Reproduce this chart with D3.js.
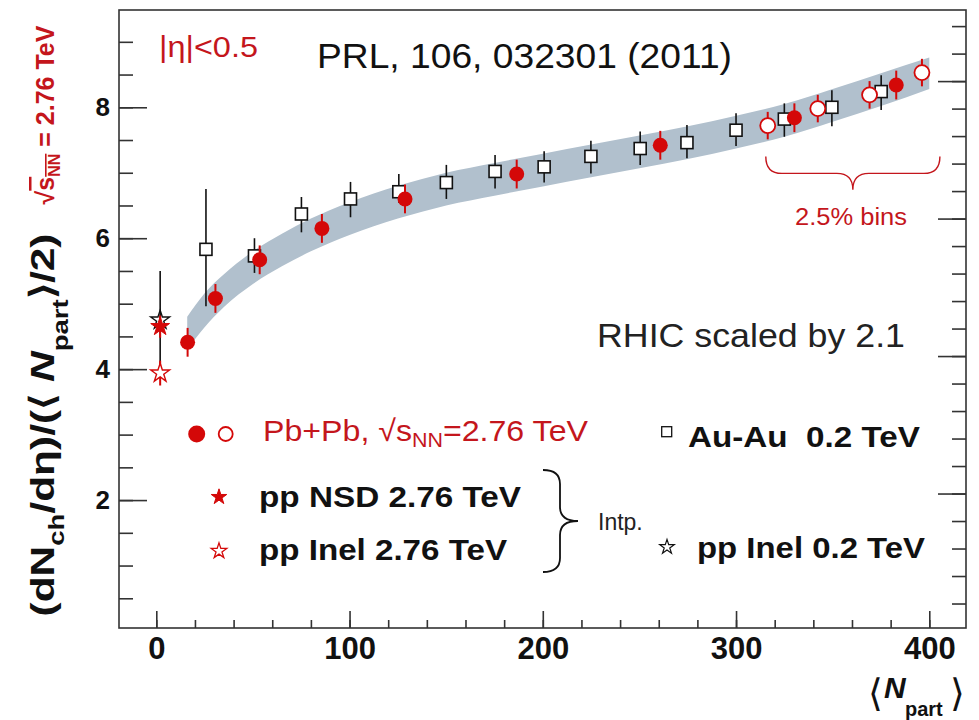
<!DOCTYPE html>
<html><head><meta charset="utf-8">
<script src="https://cdn.jsdelivr.net/npm/d3@7"></script>
<style>
body{margin:0;background:#fff}
svg{display:block}
text{font-family:"Liberation Sans",Arial,Helvetica,sans-serif}
</style>
</head><body>
<svg id="c" width="979" height="720"></svg>
<script>
// ---------------- data ----------------
// ALICE Pb+Pb 2.76 TeV, centrality bins (filled) and 2.5% bins (open)
const pbpbN   = [16.2, 30.6, 53.5, 85.7, 128.7, 186.5, 260.8, 330.2, 382.9];
const pbpbV   = [4.41, 5.08, 5.67, 6.15, 6.60, 6.98, 7.42, 7.84, 8.34];
const pbpbErr = [0.22, 0.22, 0.22, 0.22, 0.22, 0.22, 0.22, 0.22, 0.22];
const fineN   = [316.4, 342.3, 369.1, 396.2];
const fineV   = [7.72, 7.98, 8.19, 8.53];
const fineErr = [0.21, 0.21, 0.21, 0.21];
// RHIC Au-Au 0.2 TeV scaled by 2.1
const auauN  = [25.7, 50.8, 75.1, 100.5, 125.5, 150.1, 175.3, 200.7, 224.9, 250.4, 274.6, 300.0, 325.0, 349.6, 375.1];
const auauV  = [5.83, 5.73, 6.37, 6.60, 6.71, 6.85, 7.02, 7.09, 7.25, 7.37, 7.46, 7.65, 7.82, 8.00, 8.24];
const auauLo = [4.96, 5.47, 6.09, 6.32, 6.54, 6.60, 6.76, 6.85, 6.99, 7.12, 7.22, 7.41, 7.55, 7.71, 7.96];
const auauHi = [6.75, 6.00, 6.63, 6.86, 6.98, 7.12, 7.27, 7.33, 7.49, 7.63, 7.73, 7.91, 8.06, 8.26, 8.49];
// pp points at Npart = 2
const ppN = 2;
const ppNsdV = 4.65, ppNsdErr = 0.17;
const ppInelV = 3.94, ppInelErr = 0.19;
const ppRhicV = 4.75, ppRhicLo = 4.0, ppRhicHi = 5.5;
// systematic band
const bandN  = [16, 25, 35, 50, 65, 80, 100, 125, 150, 175, 200, 225, 250, 275, 300, 325, 350, 375, 400];
const bandLo = [4.30, 4.64, 4.95, 5.30, 5.57, 5.80, 6.05, 6.30, 6.50, 6.65, 6.79, 6.93, 7.07, 7.21, 7.37, 7.55, 7.78, 8.02, 8.28];
const bandHi = [4.80, 5.16, 5.45, 5.80, 6.07, 6.30, 6.55, 6.80, 7.00, 7.15, 7.29, 7.43, 7.57, 7.71, 7.87, 8.05, 8.28, 8.52, 8.76];
// ticks
const xMajor = [0, 100, 200, 300, 400];
const yMajor = [2, 4, 6, 8];
// annotation brace (2.5% bins) in data units
const binsBrace = {n0: 315.4, n1: 405.5, yEnd: 7.25, yMid: 6.99, yTip: 6.74};

// ---------------- scales ----------------
const svg = d3.select('#c');
const L = 119, R = 966, T = 10, B = 628;
const x = d3.scaleLinear().domain([-19.3, 419]).range([L, R]);
const y = d3.scaleLinear().domain([0.046, 9.486]).range([B, T]);
const yR = d3.scaleLinear().domain([0.046 / 2.1, 9.486 / 2.1]).range([B, T]);

const RED = '#d40808', TRED = '#c4161c', BAND = '#b1c0cd';

// ---------------- band ----------------
const band = bandN.map((n, i) => ({n, lo: bandLo[i], hi: bandHi[i]}));
svg.append('path').datum(band)
  .attr('fill', BAND)
  .attr('d', d3.area().x(d => x(d.n)).y0(d => y(d.lo)).y1(d => y(d.hi)).curve(d3.curveMonotoneX));

// ---------------- axes ----------------
const g = svg.append('g');
const range = (a, b, s) => d3.range(a, b + 1e-9, s).map(v => +v.toFixed(4));
// left
g.append('g').attr('transform', `translate(${L},0)`)
  .call(d3.axisLeft(y).tickValues(range(0.5, 9, 0.5)).tickSize(-14).tickFormat(''))
  .call(a => a.select('.domain').remove());
g.append('g').attr('transform', `translate(${L},0)`)
  .call(d3.axisLeft(y).tickValues(yMajor).tickSize(-28).tickPadding(9).tickFormat(d3.format('d')))
  .call(a => a.select('.domain').remove())
  .call(a => a.selectAll('text').attr('font-size', 26).attr('font-weight', 'bold').attr('fill', '#111')
      .attr('font-family', '"Liberation Sans",Arial,sans-serif'));
// right (RHIC scale)
g.append('g').attr('transform', `translate(${R},0)`)
  .call(d3.axisRight(yR).tickValues(range(0.2, 4.4, 0.2)).tickSize(-14).tickFormat(''))
  .call(a => a.select('.domain').remove());
g.append('g').attr('transform', `translate(${R},0)`)
  .call(d3.axisRight(yR).tickValues([1, 2, 3, 4]).tickSize(-28).tickFormat(''))
  .call(a => a.select('.domain').remove());
// bottom
g.append('g').attr('transform', `translate(0,${B})`)
  .call(d3.axisBottom(x).tickValues(range(0, 400, 20)).tickSize(-8).tickFormat(''))
  .call(a => a.select('.domain').remove());
g.append('g').attr('transform', `translate(0,${B})`)
  .call(d3.axisBottom(x).tickValues(xMajor).tickSize(-17).tickPadding(9).tickFormat(d3.format('d')))
  .call(a => a.select('.domain').remove())
  .call(a => a.selectAll('text').attr('font-size', 31).attr('font-weight', 'bold').attr('fill', '#111')
      .attr('dy', '0.72em').attr('font-family', '"Liberation Sans",Arial,sans-serif'));
g.selectAll('.tick line').attr('stroke', '#333').attr('stroke-width', 1.6);
// frame
svg.append('rect').attr('x', L).attr('y', T).attr('width', R - L).attr('height', B - T)
  .attr('fill', 'none').attr('stroke', '#333').attr('stroke-width', 1.6);

// ---------------- data marks ----------------
const auau = auauN.map((n, i) => ({n, v: auauV[i], lo: auauLo[i], hi: auauHi[i]}));
// pp RHIC error (black)
svg.append('line').attr('x1', x(ppN)).attr('x2', x(ppN)).attr('y1', y(ppRhicLo)).attr('y2', y(ppRhicHi))
  .attr('stroke', '#111').attr('stroke-width', 1.6);
// Au-Au error bars & squares
svg.append('g').selectAll('line').data(auau).join('line')
  .attr('x1', d => x(d.n)).attr('x2', d => x(d.n)).attr('y1', d => y(d.lo)).attr('y2', d => y(d.hi))
  .attr('stroke', '#111').attr('stroke-width', 1.6);
svg.append('g').selectAll('rect').data(auau).join('rect')
  .attr('x', d => x(d.n) - 6).attr('y', d => y(d.v) - 6).attr('width', 12).attr('height', 12)
  .attr('fill', '#fff').attr('stroke', '#111').attr('stroke-width', 1.6);

const star = d3.symbol().type(d3.symbolStar);
// pp stars
svg.append('line').attr('x1', x(ppN)).attr('x2', x(ppN))
  .attr('y1', y(ppNsdV - ppNsdErr)).attr('y2', y(ppNsdV + ppNsdErr)).attr('stroke', RED).attr('stroke-width', 2);
svg.append('line').attr('x1', x(ppN)).attr('x2', x(ppN))
  .attr('y1', y(ppInelV - ppInelErr)).attr('y2', y(ppInelV + ppInelErr)).attr('stroke', RED).attr('stroke-width', 2);
svg.append('path').attr('d', star.size(110)()).attr('transform', `translate(${x(ppN)},${y(ppRhicV)})`)
  .attr('fill', 'none').attr('stroke', '#111').attr('stroke-width', 1.4);
svg.append('path').attr('d', star.size(110)()).attr('transform', `translate(${x(ppN)},${y(ppNsdV)})`)
  .attr('fill', RED).attr('stroke', RED).attr('stroke-width', 1);
svg.append('path').attr('d', star.size(110)()).attr('transform', `translate(${x(ppN)},${y(ppInelV)})`)
  .attr('fill', '#fff').attr('stroke', RED).attr('stroke-width', 1.4);

// Pb+Pb
const pb = pbpbN.map((n, i) => ({n, v: pbpbV[i], e: pbpbErr[i]}));
const fine = fineN.map((n, i) => ({n, v: fineV[i], e: fineErr[i]}));
svg.append('g').selectAll('line').data(fine).join('line')
  .attr('x1', d => x(d.n)).attr('x2', d => x(d.n)).attr('y1', d => y(d.v - d.e)).attr('y2', d => y(d.v + d.e))
  .attr('stroke', RED).attr('stroke-width', 2);
svg.append('g').selectAll('circle').data(fine).join('circle')
  .attr('cx', d => x(d.n)).attr('cy', d => y(d.v)).attr('r', 7.5)
  .attr('fill', '#fff').attr('stroke', RED).attr('stroke-width', 1.8);
svg.append('g').selectAll('line').data(pb).join('line')
  .attr('x1', d => x(d.n)).attr('x2', d => x(d.n)).attr('y1', d => y(d.v - d.e)).attr('y2', d => y(d.v + d.e))
  .attr('stroke', RED).attr('stroke-width', 2);
svg.append('g').selectAll('circle').data(pb).join('circle')
  .attr('cx', d => x(d.n)).attr('cy', d => y(d.v)).attr('r', 7.5).attr('fill', RED);

// ---------------- annotations ----------------
function hBrace(x0, x1, yE, yM, yT, r) {
  const xm = (x0 + x1) / 2;
  return `M${x0},${yE} Q${x0},${yM} ${x0 + r},${yM} L${xm - r},${yM} Q${xm},${yM} ${xm},${yT} ` +
         `Q${xm},${yM} ${xm + r},${yM} L${x1 - r},${yM} Q${x1},${yM} ${x1},${yE}`;
}
function vBrace(xE, xM, xT, y0, y1, r) {
  const ym = (y0 + y1) / 2;
  return `M${xE},${y0} Q${xM},${y0} ${xM},${y0 + r} L${xM},${ym - r} Q${xM},${ym} ${xT},${ym} ` +
         `Q${xM},${ym} ${xM},${ym + r} L${xM},${y1 - r} Q${xM},${y1} ${xE},${y1}`;
}
svg.append('path')
  .attr('d', hBrace(x(binsBrace.n0), x(binsBrace.n1), y(binsBrace.yEnd), y(binsBrace.yMid), y(binsBrace.yTip), 16))
  .attr('fill', 'none').attr('stroke', TRED).attr('stroke-width', 1.4);

function txt(s, xx, yy, opt) {
  const t = svg.append('text').attr('x', xx).attr('y', yy).text(s)
    .attr('font-size', opt.size).attr('fill', opt.fill || '#111')
    .attr('font-weight', opt.weight || 'normal').style('white-space', 'pre');
  if (opt.len) t.attr('textLength', opt.len).attr('lengthAdjust', 'spacingAndGlyphs');
  return t;
}
txt('|η|<0.5', 159, 57, {size: 29, fill: TRED, len: 99});
txt('PRL, 106, 032301 (2011)', 317, 68, {size: 35, fill: '#111', len: 415});
txt('RHIC scaled by 2.1', 597, 347, {size: 33, fill: '#222', len: 308});
txt('2.5% bins', 795, 225, {size: 23, fill: TRED, len: 112});

// ---------------- legend ----------------
svg.append('circle').attr('cx', 196.7).attr('cy', 434).attr('r', 8.5).attr('fill', RED);
svg.append('circle').attr('cx', 225.7).attr('cy', 434).attr('r', 7).attr('fill', '#fff').attr('stroke', RED).attr('stroke-width', 1.8);
const lp = svg.append('text').attr('x', 263).attr('y', 441).attr('font-size', 30).attr('fill', TRED)
  .attr('textLength', 325).attr('lengthAdjust', 'spacingAndGlyphs');
lp.append('tspan').text('Pb+Pb, √s');
lp.append('tspan').attr('font-size', 20).attr('dy', 6).text('NN');
lp.append('tspan').attr('dy', -6).text('=2.76 TeV');

svg.append('rect').attr('x', 661.7).attr('y', 426.7).attr('width', 10).attr('height', 10)
  .attr('fill', 'none').attr('stroke', '#111').attr('stroke-width', 1.3);
txt('Au-Au  0.2 TeV', 688, 447, {size: 30, weight: 'bold', len: 232});

svg.append('path').attr('d', star.size(75)()).attr('transform', 'translate(219,497)')
  .attr('fill', RED).attr('stroke', RED);
svg.append('path').attr('d', star.size(75)()).attr('transform', 'translate(219,551)')
  .attr('fill', '#fff').attr('stroke', RED).attr('stroke-width', 1.3);
txt('pp NSD 2.76 TeV', 259, 507, {size: 30, weight: 'bold', len: 262});
txt('pp Inel 2.76 TeV', 259, 560, {size: 30, weight: 'bold', len: 248});
svg.append('path').attr('d', vBrace(543, 560, 578, 470, 572, 14))
  .attr('fill', 'none').attr('stroke', '#111').attr('stroke-width', 1.8);
txt('Intp.', 598, 530, {size: 23, fill: '#222'});
svg.append('path').attr('d', star.size(65)()).attr('transform', 'translate(667,547)')
  .attr('fill', '#fff').attr('stroke', '#111').attr('stroke-width', 1.2);
txt('pp Inel 0.2 TeV', 697, 558, {size: 30, weight: 'bold', len: 228});

// ---------------- axis titles ----------------
const xt = svg.append('g');
xt.append('text').attr('x', 868).attr('y', 706).attr('font-size', 38).attr('fill', '#111').text('⟨');
xt.append('text').attr('x', 884).attr('y', 698).attr('font-size', 30).attr('font-weight', 'bold')
  .attr('font-style', 'italic').attr('fill', '#111').text('N');
xt.append('text').attr('x', 905).attr('y', 716).attr('font-size', 20).attr('font-weight', 'bold').attr('fill', '#111').text('part');
xt.append('text').attr('x', 950).attr('y', 706).attr('font-size', 38).attr('fill', '#111').text('⟩');

const yt = svg.append('text').attr('transform', 'translate(54,425) rotate(-90)')
  .attr('text-anchor', 'middle').attr('font-size', 34).attr('font-weight', 'bold').attr('fill', '#111')
  .attr('textLength', 383).attr('lengthAdjust', 'spacingAndGlyphs');
yt.append('tspan').text('(d');
yt.append('tspan').text('N');
yt.append('tspan').attr('font-size', 22).attr('dy', 10).text('ch');
yt.append('tspan').attr('dy', -10).text('/dη)/(⟨ ');
yt.append('tspan').attr('font-style', 'italic').text('N');
yt.append('tspan').attr('font-size', 22).attr('dy', 14).text('part');
yt.append('tspan').attr('dy', -14).text('⟩/2)');

const rt = svg.append('text').attr('transform', 'translate(54,115) rotate(-90)')
  .attr('text-anchor', 'middle').attr('font-size', 25).attr('font-weight', 'bold').attr('fill', TRED);
rt.append('tspan').text('√');
rt.append('tspan').attr('text-decoration', 'overline').text('s');
rt.append('tspan').attr('font-size', 16).attr('dy', 6).attr('text-decoration', 'overline').text('NN');
rt.append('tspan').attr('dy', -6).text(' = 2.76 TeV');
</script>
</body></html>
